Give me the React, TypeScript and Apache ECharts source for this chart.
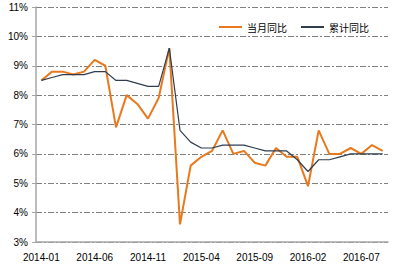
import React, { useEffect, useRef } from "react";
import * as echarts from "echarts";

const categories = [
  "2014-01", "2014-02", "2014-03", "2014-04", "2014-05", "2014-06", "2014-07", "2014-08",
  "2014-09", "2014-10", "2014-11", "2014-12", "2015-01", "2015-02", "2015-03", "2015-04",
  "2015-05", "2015-06", "2015-07", "2015-08", "2015-09", "2015-10", "2015-11", "2015-12",
  "2016-01", "2016-02", "2016-03", "2016-04", "2016-05", "2016-06", "2016-07", "2016-08",
  "2016-09",
];

const monthly = [
  8.5, 8.8, 8.8, 8.7, 8.8, 9.2, 9.0, 6.9, 8.0, 7.7, 7.2, 7.9, 9.6, 3.6, 5.6, 5.9,
  6.1, 6.8, 6.0, 6.1, 5.7, 5.6, 6.2, 5.9, 5.9, 4.9, 6.8, 6.0, 6.0, 6.2, 6.0, 6.3,
  6.1,
];

const cumulative = [
  8.5, 8.6, 8.7, 8.7, 8.7, 8.8, 8.8, 8.5, 8.5, 8.4, 8.3, 8.3, 9.6, 6.8, 6.4, 6.2,
  6.2, 6.3, 6.3, 6.3, 6.2, 6.1, 6.1, 6.1, 5.8, 5.4, 5.8, 5.8, 5.9, 6.0, 6.0, 6.0,
  6.0,
];

const seriesNames = ["当月同比", "累计同比"];

export default function App() {
  const ref = useRef<HTMLDivElement>(null);
  useEffect(() => {
    if (!ref.current) return;
    const chart = echarts.init(ref.current, null, { renderer: "svg" });
    const font = "'Liberation Sans', Arial, sans-serif";
    chart.setOption({
      animation: false,
      backgroundColor: "#ffffff",
      grid: { left: 36, right: 12, top: 7, bottom: 31, containLabel: false },
      legend: {
        left: 214,
        top: 17,
        itemWidth: 23,
        itemHeight: 2,
        itemGap: 14,
        icon: "rect",
        textStyle: { fontSize: 10, color: "#000", fontFamily: "'Noto Sans CJK SC', sans-serif" },
        data: seriesNames,
      },
      xAxis: {
        type: "category",
        data: categories,
        boundaryGap: true,
        axisLine: { lineStyle: { color: "#a6a6a6", width: 1.5 } },
        axisTick: { interval: 4, length: 4, lineStyle: { color: "#a6a6a6" } },
        axisLabel: { interval: 4, margin: 10, fontSize: 10, color: "#000", fontFamily: font },
        splitLine: { show: false },
      },
      yAxis: {
        type: "value",
        min: 3,
        max: 11,
        interval: 1,
        axisLine: { show: true, lineStyle: { color: "#a6a6a6", width: 1.5 } },
        axisTick: { show: true, length: 4, lineStyle: { color: "#a6a6a6" } },
        axisLabel: { formatter: "{value}%", margin: 8, fontSize: 10, color: "#000", fontFamily: font },
        splitLine: { show: true, lineStyle: { color: "#808080", width: 1, type: [6, 2, 2, 2] } },
      },
      series: [
        {
          name: seriesNames[0],
          type: "line",
          data: monthly,
          symbol: "none",
          lineStyle: { color: "#E8791E", width: 2 },
          itemStyle: { color: "#E8791E" },
        },
        {
          name: seriesNames[1],
          type: "line",
          data: cumulative,
          symbol: "none",
          lineStyle: { color: "#2F3D4F", width: 1.2 },
          itemStyle: { color: "#2F3D4F" },
        },
      ],
    });
    return () => chart.dispose();
  }, []);
  return (
    <div
      ref={ref}
      style={{ position: "absolute", left: 0, top: 0, width: 400, height: 273 }}
    />
  );
}
